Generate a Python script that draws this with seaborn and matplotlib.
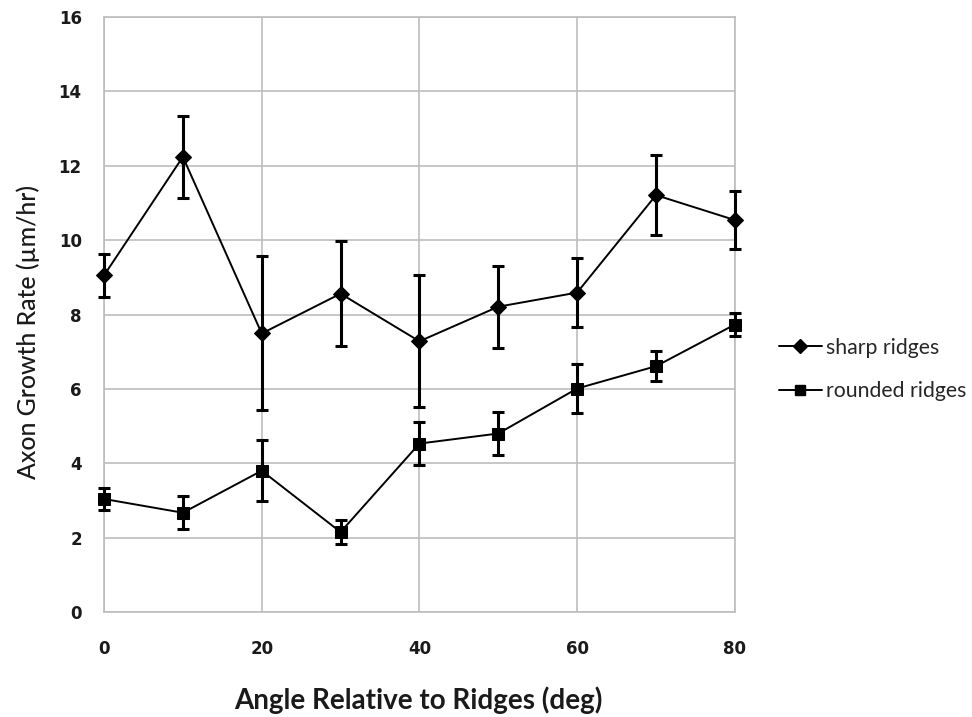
import matplotlib
matplotlib.use("Agg")
import matplotlib.pyplot as plt
import seaborn as sns
import pandas as pd
from matplotlib.lines import Line2D

# Growth rate vs. angle between axon and ridge direction
angles = [0, 10, 20, 30, 40, 50, 60, 70, 80]
sharp_mean = [9.05, 12.24, 7.49, 8.56, 7.28, 8.21, 8.59, 11.21, 10.54]
sharp_err = [0.58, 1.11, 2.07, 1.42, 1.78, 1.10, 0.92, 1.07, 0.79]
rounded_mean = [3.04, 2.67, 3.80, 2.15, 4.53, 4.80, 6.01, 6.61, 7.73]
rounded_err = [0.29, 0.44, 0.82, 0.33, 0.58, 0.57, 0.67, 0.41, 0.32]
series_names = ["sharp ridges", "rounded ridges"]
y_ticks = [0, 2, 4, 6, 8, 10, 12, 14, 16]
x_ticks = [0, 20, 40, 60, 80]

sns.set_theme(style="whitegrid")
plt.rcParams["font.family"] = ["DejaVu Sans"]

df = pd.DataFrame({
    "angle": angles * 2,
    "rate": sharp_mean + rounded_mean,
    "err": sharp_err + rounded_err,
    "series": [series_names[0]] * len(angles) + [series_names[1]] * len(angles),
})

fig = plt.figure(figsize=(9.72, 7.17), dpi=100)
ax = fig.add_axes([0.107, 0.1464, 0.649, 0.8299])

sns.lineplot(data=df, x="angle", y="rate", style="series",
             markers={series_names[0]: "D", series_names[1]: "s"},
             dashes=False, color="black", linewidth=1.4, markersize=8,
             markeredgecolor="black", legend=False, ax=ax, zorder=5,
             clip_on=False)

for name in series_names:
    sub = df[df["series"] == name]
    eb = ax.errorbar(sub["angle"], sub["rate"], yerr=sub["err"], fmt="none",
                     ecolor="black", elinewidth=2.2, capsize=4, capthick=2.2,
                     zorder=4)
    for art in eb.lines[1] + eb.lines[2]:
        art.set_clip_on(False)

ax.set_xlim(0, 80)
ax.set_ylim(0, 16)
ax.set_xticks(x_ticks)
ax.set_yticks(y_ticks)
ax.grid(True, color="#bdbdbd", linewidth=1.2)
ax.set_axisbelow(True)
for sp in ax.spines.values():
    sp.set_color("#bdbdbd")
    sp.set_linewidth(1.2)
ax.tick_params(axis="both", length=0, labelsize=12, colors="#1a1a1a")
ax.tick_params(axis="x", pad=20)
ax.tick_params(axis="y", pad=16)
for lbl in ax.get_xticklabels() + ax.get_yticklabels():
    lbl.set_fontweight("bold")

ax.set_xlabel("Angle Relative to Ridges (deg)", family=["Lato", "DejaVu Sans"],
              fontsize=20, fontweight="bold", color="#1a1a1a",
              va="center", ha="center")
ax.xaxis.set_label_coords(0.4976, -0.148)
ax.set_ylabel("Axon Growth Rate (µm/hr)", family=["Lato", "DejaVu Sans"],
              fontsize=17.8, fontweight="medium", color="#1a1a1a",
              va="center", ha="center")
ax.yaxis.set_label_coords(-0.12, 0.47)

handles = [
    Line2D([0], [0], color="black", marker="D", markersize=7, linewidth=1.4),
    Line2D([0], [0], color="black", marker="s", markersize=7, linewidth=1.4),
]
ax.legend(handles, series_names, loc="center left", bbox_to_anchor=(1.04, 0.408),
          frameon=False, handlelength=2.0, handletextpad=0.22, labelspacing=1.1,
          prop={"family": ["Lato", "DejaVu Sans"], "size": 15.3})

fig.savefig("out.png", dpi=100, facecolor="white")
